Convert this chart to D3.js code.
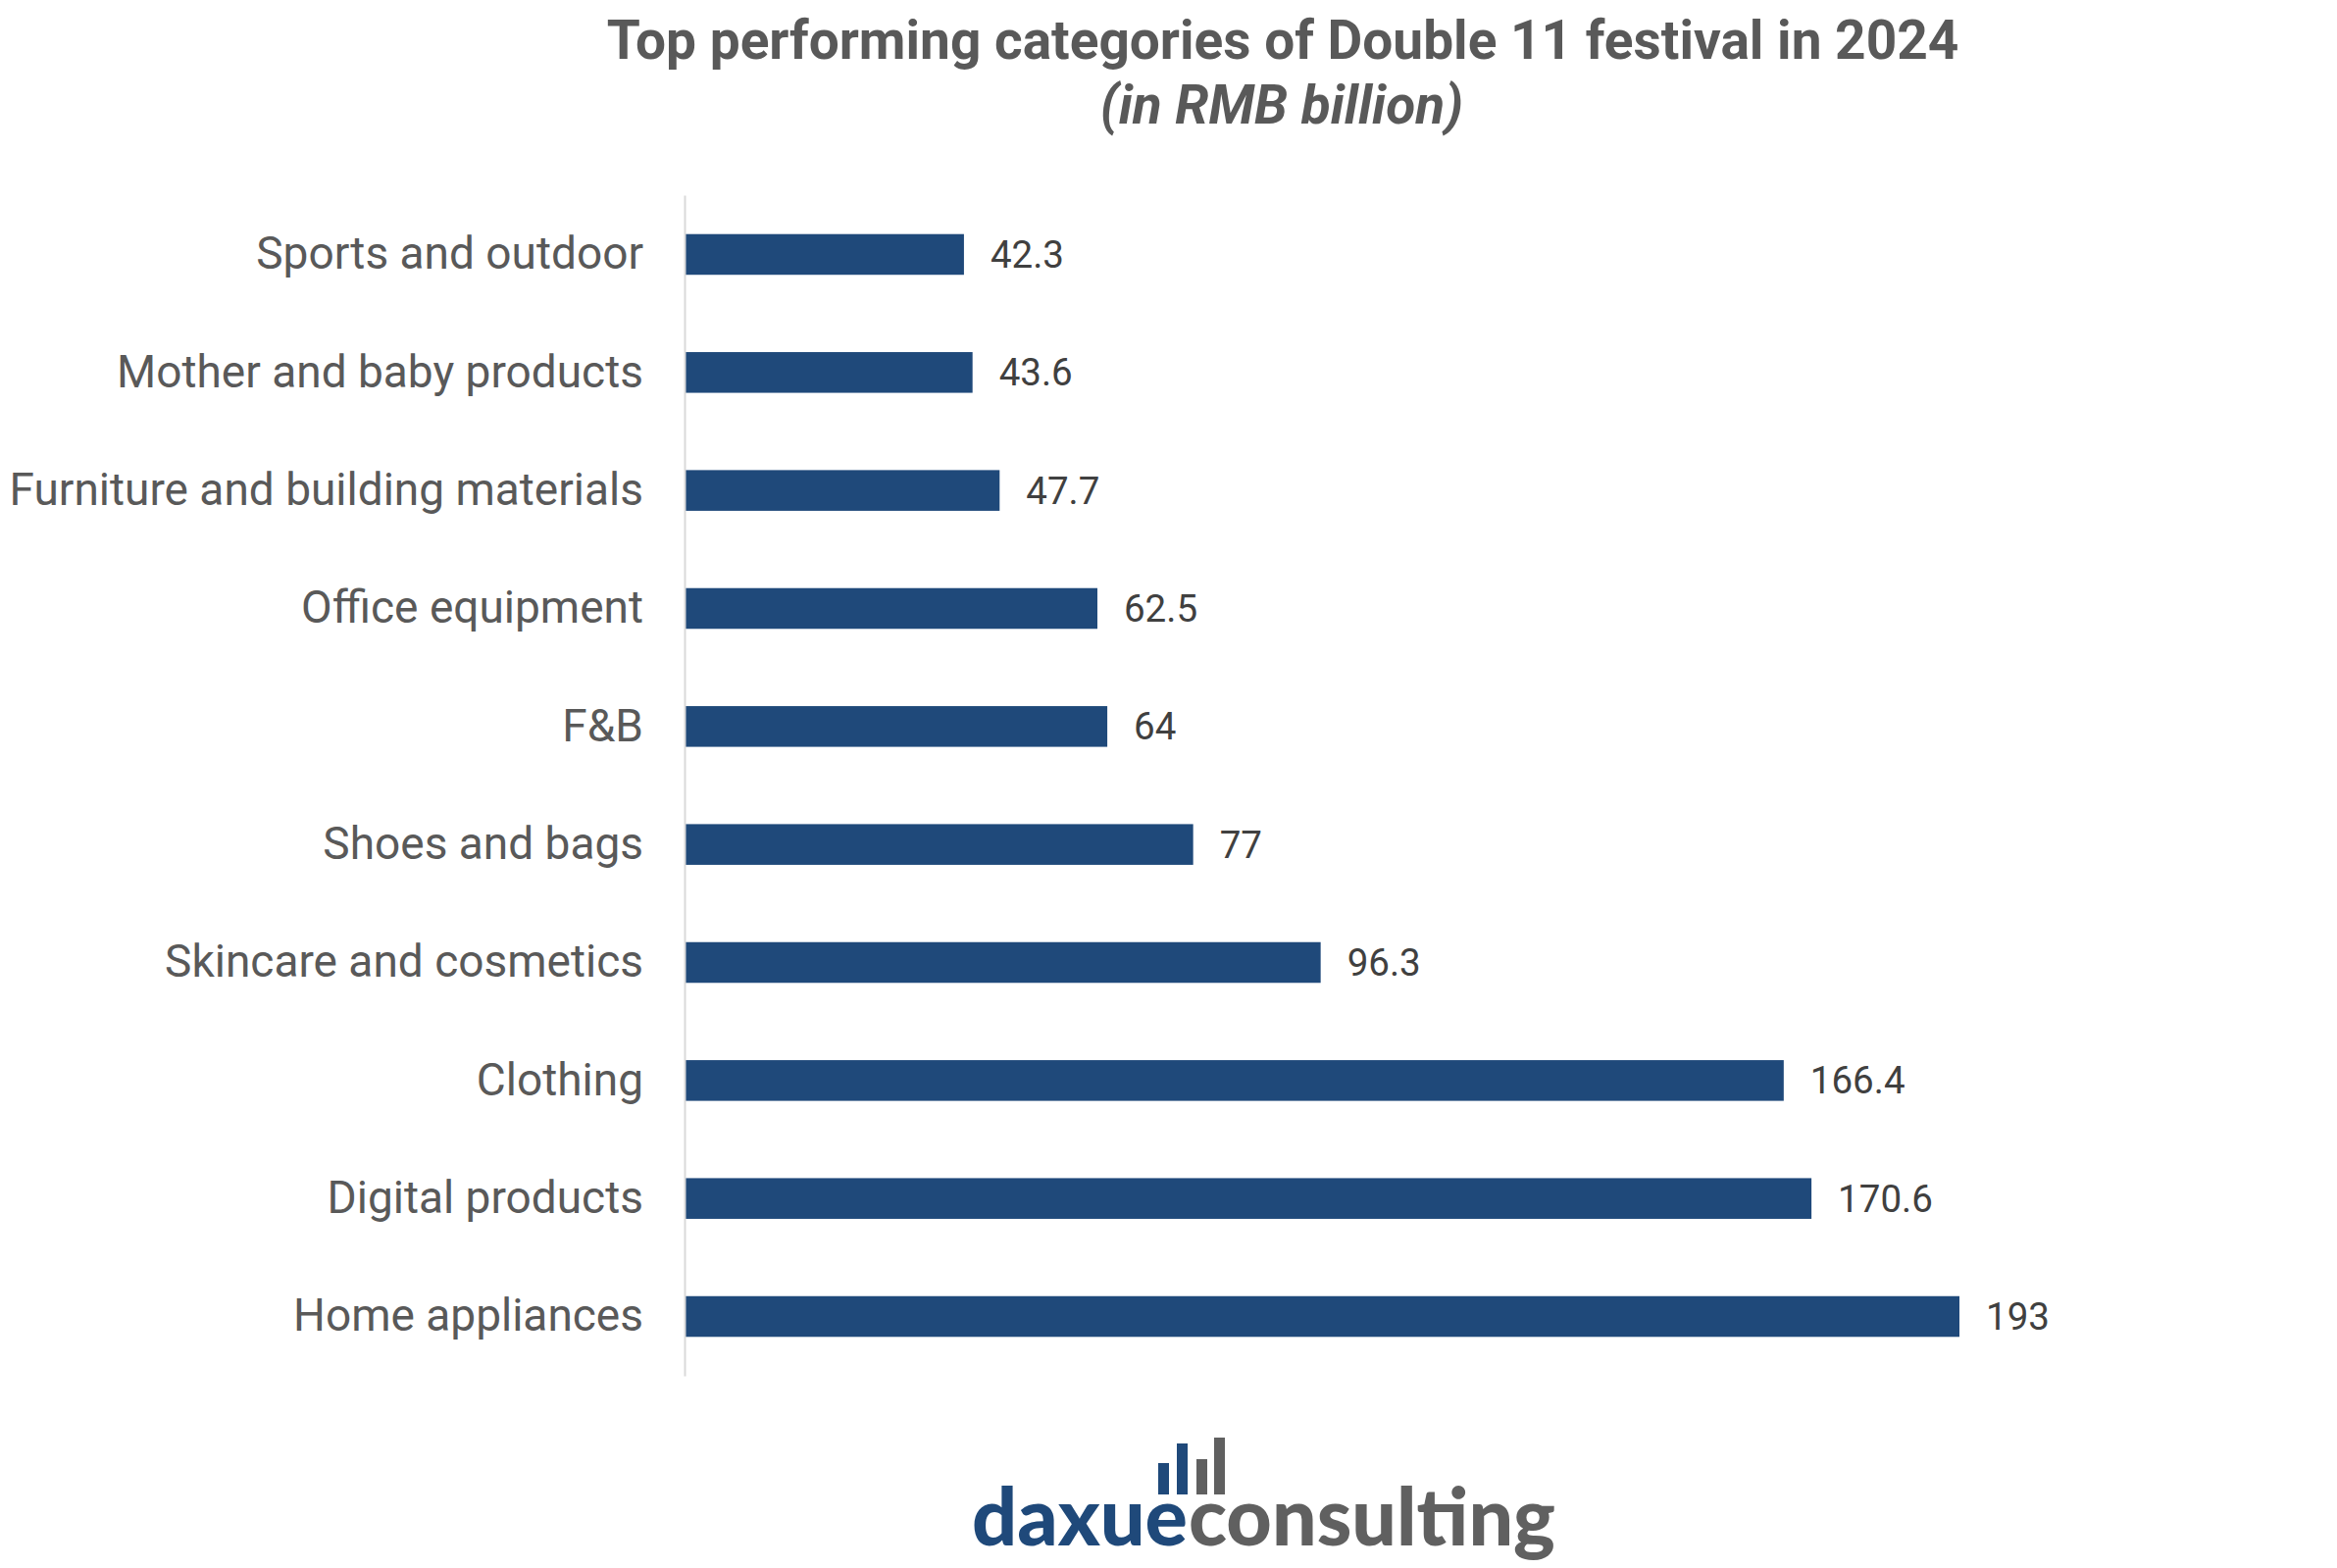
<!DOCTYPE html>
<html><head><meta charset="utf-8">
<script src="https://cdn.jsdelivr.net/npm/d3@7"></script>
<style>html,body{margin:0;padding:0;background:#fff;}svg{display:block;}</style>
</head><body>
<script>
const categories = ["Sports and outdoor","Mother and baby products","Furniture and building materials","Office equipment","F&B","Shoes and bags","Skincare and cosmetics","Clothing","Digital products","Home appliances"];
const values = [42.3, 43.6, 47.7, 62.5, 64, 77, 96.3, 166.4, 170.6, 193];
const valueLabels = ["42.3","43.6","47.7","62.5","64","77","96.3","166.4","170.6","193"];
const titleText = "Top performing categories of Double 11 festival in 2024";
const subtitleText = "(in RMB billion)";

const W = 2383, H = 1599;
const plotLeft = 698, plotTop = 199, plotBottom = 1403;
const svg = d3.select("body").append("svg").attr("width", W).attr("height", H);

const x = d3.scaleLinear().domain([0, 193]).range([plotLeft, 1998]);
const y = d3.scaleBand().domain(categories).range([plotTop, plotBottom]).paddingInner(0.655).paddingOuter(0.33);

svg.append("text").attr("x", 1308).attr("y", 60).attr("text-anchor", "middle")
  .attr("font-family", "Roboto").attr("font-weight", "bold").attr("font-size", 55)
  .attr("fill", "#595959").text(titleText);
svg.append("text").attr("x", 1307).attr("y", 126).attr("text-anchor", "middle")
  .attr("font-family", "Roboto").attr("font-weight", "bold").attr("font-style", "italic").attr("font-size", 55)
  .attr("fill", "#595959").text(subtitleText);

svg.selectAll("rect.bar").data(values).join("rect").attr("class", "bar")
  .attr("x", x(0)).attr("y", (d, i) => y(categories[i]))
  .attr("width", d => x(d) - x(0)).attr("height", y.bandwidth())
  .attr("fill", "#1F497A");

const yAxis = svg.append("g").attr("transform", `translate(${plotLeft},0)`)
  .call(d3.axisLeft(y).tickSize(0).tickPadding(42));
yAxis.select(".domain").attr("stroke", "#d9d9d9").attr("stroke-width", 2);
yAxis.selectAll("text").attr("font-family", "Roboto").attr("font-size", 46).attr("fill", "#595959");

svg.selectAll("text.val").data(values).join("text").attr("class", "val")
  .attr("x", d => x(d) + 27).attr("y", (d, i) => y(categories[i]) + y.bandwidth() / 2)
  .attr("dy", "0.35em").attr("font-family", "Roboto").attr("font-size", 38.5).attr("fill", "#404040")
  .text((d, i) => valueLabels[i]);

// logo
const logo = svg.append("g");
const barsIcon = [[1181, 1492, "#1F497A"], [1200, 1472, "#1F497A"], [1220, 1488, "#606060"], [1238, 1466, "#606060"]];
logo.selectAll("rect").data(barsIcon).join("rect")
  .attr("x", d => d[0]).attr("y", d => d[1]).attr("width", 11).attr("height", d => 1524 - d[1]).attr("fill", d => d[2]);
logo.append("text").attr("x", 991).attr("y", 1576).attr("font-family", "Lato").attr("font-weight", 900)
  .attr("font-size", 82).attr("fill", "#1F497A").attr("textLength", 220).attr("lengthAdjust", "spacingAndGlyphs").text("daxue");
logo.append("text").attr("x", 1212).attr("y", 1576).attr("font-family", "Lato").attr("font-weight", 900)
  .attr("font-size", 82).attr("fill", "#606060").attr("textLength", 374).attr("lengthAdjust", "spacingAndGlyphs").text("consulting");
</script>
</body></html>
